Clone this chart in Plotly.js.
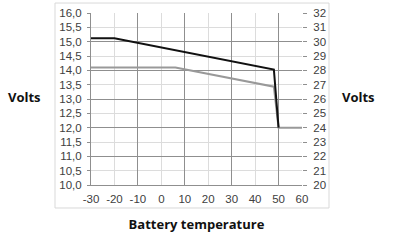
<!DOCTYPE html>
<html>
<head>
<meta charset="utf-8">
<script src="https://cdn.plot.ly/plotly-3.0.1.min.js"></script>
<style>html,body{margin:0;padding:0;background:#fff;}#chart{width:395px;height:245px;}</style>
</head>
<body>
<div id="chart"></div>
<script>
// Data
var tempBlack = [-30, -20, 48, 50];
var voltBlack = [15.12, 15.12, 14.03, 12.0];
var tempGray = [-30, 6, 48, 50, 60];
var voltGray = [14.1, 14.1, 13.43, 12.0, 12.0];
var xTickVals = [-30, -20, -10, 0, 10, 20, 30, 40, 50, 60];
var xTickText = ['-30', '-20', '-10', '0', '10', '20', '30', '40', '50', '60'];
var xTitle = 'Battery temperature';
var yTitle = 'Volts';

var tickFont = {family: 'Liberation Sans, Arial, sans-serif', size: 11.5, color: '#404040'};
var titleFont = {family: 'Open Sans, sans-serif', size: 13, color: '#111'};
var lightGrid = '#dcdcdc';
var darkGrid = '#8f8f8f';

var traces = [
  {x: [], y: [], xaxis: 'x2', yaxis: 'y3', mode: 'lines', showlegend: false, hoverinfo: 'skip'},
  {x: tempGray, y: voltGray, mode: 'lines', line: {color: '#999999', width: 2}, showlegend: false},
  {x: tempBlack, y: voltBlack, mode: 'lines', line: {color: '#111111', width: 2}, showlegend: false},
  {x: [], y: [], yaxis: 'y2', mode: 'lines', showlegend: false, hoverinfo: 'skip'}
];

var layout = {
  width: 395, height: 245,
  margin: {l: 91, r: 93, t: 13, b: 60},
  paper_bgcolor: '#fff', plot_bgcolor: 'rgba(0,0,0,0)',
  separators: ',.',
  showlegend: false,
  xaxis: {
    range: [-30, 60], tickmode: 'array', tickvals: xTickVals, ticktext: xTickText,
    showgrid: true, gridcolor: lightGrid, gridwidth: 1,
    zeroline: false, showline: true, linecolor: darkGrid, linewidth: 1,
    ticks: '', ticklabelstandoff: 3, tickfont: tickFont,
    title: {text: xTitle, font: titleFont, standoff: 16}
  },
  yaxis: {
    range: [10, 16], dtick: 0.5, tick0: 10, tickformat: '.1f',
    showgrid: true, gridcolor: lightGrid, gridwidth: 1,
    zeroline: false, showline: true, linecolor: darkGrid, linewidth: 1,
    ticks: 'outside', ticklen: 3, tickcolor: darkGrid, ticklabelstandoff: 3, tickfont: tickFont
  },
  yaxis2: {
    overlaying: 'y', side: 'right', anchor: 'x',
    range: [20, 32], dtick: 1, tick0: 20,
    showgrid: false, zeroline: false, showline: false,
    ticks: 'outside', ticklen: 4, tickcolor: darkGrid, ticklabelstandoff: 4, tickfont: tickFont
  },
  xaxis2: {
    overlaying: 'x', anchor: 'y3', range: [-30, 60], tick0: -10, dtick: 20,
    showgrid: true, gridcolor: darkGrid, gridwidth: 1,
    showticklabels: false, ticks: '', zeroline: false, showline: false
  },
  yaxis3: {
    overlaying: 'y', anchor: 'x2', range: [10, 16], tick0: 10, dtick: 1,
    showgrid: true, gridcolor: darkGrid, gridwidth: 1,
    showticklabels: false, ticks: '', zeroline: false, showline: false
  },
  annotations: [
    {text: '<b>' + yTitle + '</b>', xref: 'paper', yref: 'paper', x: -0.313, y: 0.51,
     xanchor: 'center', yanchor: 'middle', showarrow: false, font: titleFont},
    {text: '<b>' + yTitle + '</b>', xref: 'paper', yref: 'paper', x: 1.27, y: 0.51,
     xanchor: 'center', yanchor: 'middle', showarrow: false, font: titleFont}
  ],
  shapes: [
    {type: 'rect', xref: 'paper', yref: 'paper', x0: -0.1706, x1: 1.128, y0: -0.1337, y1: 1.058,
     line: {color: '#d9d9d9', width: 1}, fillcolor: 'rgba(0,0,0,0)', layer: 'below'}
  ]
};
layout.xaxis.title.text = '<b>' + xTitle + '</b>';

Plotly.newPlot('chart', traces, layout, {displayModeBar: false, staticPlot: true});
</script>
</body>
</html>
